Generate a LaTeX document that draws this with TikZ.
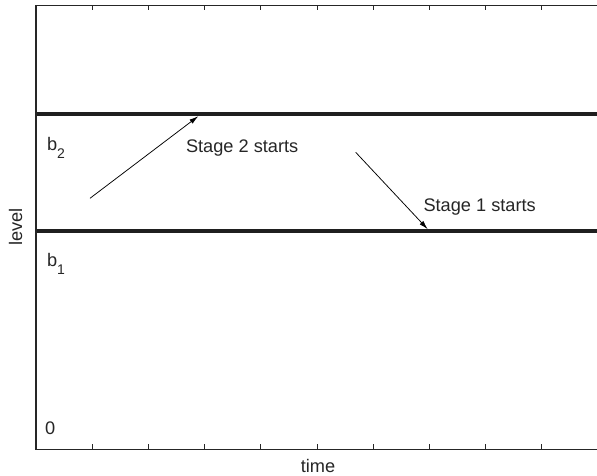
\documentclass[tikz,border=0pt]{standalone}
\usepackage{fontspec}
\setmainfont{Liberation Sans}
\usetikzlibrary{arrows.meta}
\definecolor{axcol}{HTML}{262626}
\tikzset{
  lbl/.style={inner sep=0pt, outer sep=0pt, text=axcol, font=\fontsize{18.2}{20}\selectfont},
  axisline/.style={draw=axcol, line width=1.1pt},
  tickmark/.style={draw=axcol, line width=0.9pt},
  levelline/.style={draw=black!88, line width=3.6pt},
  pointer/.style={draw=black, line width=0.75pt, -{Latex[length=9pt,width=5pt]}}
}
\newcommand{\subtxt}[1]{\raisebox{-8pt}{\fontsize{14}{14}\selectfont #1}}
\begin{document}
\begin{tikzpicture}[x=1pt,y=-1pt]
\clip (0,0) rectangle (597,476);
\fill[white] (0,0) rectangle (597,476);
% axes box
\draw[axisline] (36,5.5) rectangle (598,449.3);
% ticks
\foreach \k in {1,...,9}{
  \draw[tickmark] ({36+56.2*\k},5.5) -- ({36+56.2*\k},10.5);
  \draw[tickmark] ({36+56.2*\k},449.3) -- ({36+56.2*\k},444.3);
}
% level lines
\coordinate (b2s) at (37,114.3);
\coordinate (b2e) at (599,114.3);
\coordinate (b1s) at (37,231);
\coordinate (b1e) at (599,231);
\draw[levelline] (b2s) -- (b2e);
\draw[levelline] (b1s) -- (b1e);
% labels
\node[lbl, anchor=base west] (lb2) at (47,150) {b\subtxt{2}};
\node[lbl, anchor=base west] (lb1) at (47,266) {b\subtxt{1}};
\node[lbl, anchor=base west] (lzero) at (45,434.3) {0};
\node[lbl, anchor=base west] (st2) at (186,152.7) {Stage 2 starts};
\node[lbl, anchor=base west] (st1) at (423.5,211.7) {Stage 1 starts};
\node[lbl, anchor=base] (xlab) at (318,472) {time};
\node[lbl, anchor=base, rotate=90] (ylab) at (22,227) {level};
% arrows
\coordinate (a2s) at (90,198.3);
\coordinate (a2e) at (198.3,116.2);
\coordinate (a1s) at (355.7,152.3);
\coordinate (a1e) at (427.7,229.2);
\draw[pointer] (a2s) -- (a2e);
\draw[pointer] (a1s) -- (a1e);
\end{tikzpicture}
\end{document}
